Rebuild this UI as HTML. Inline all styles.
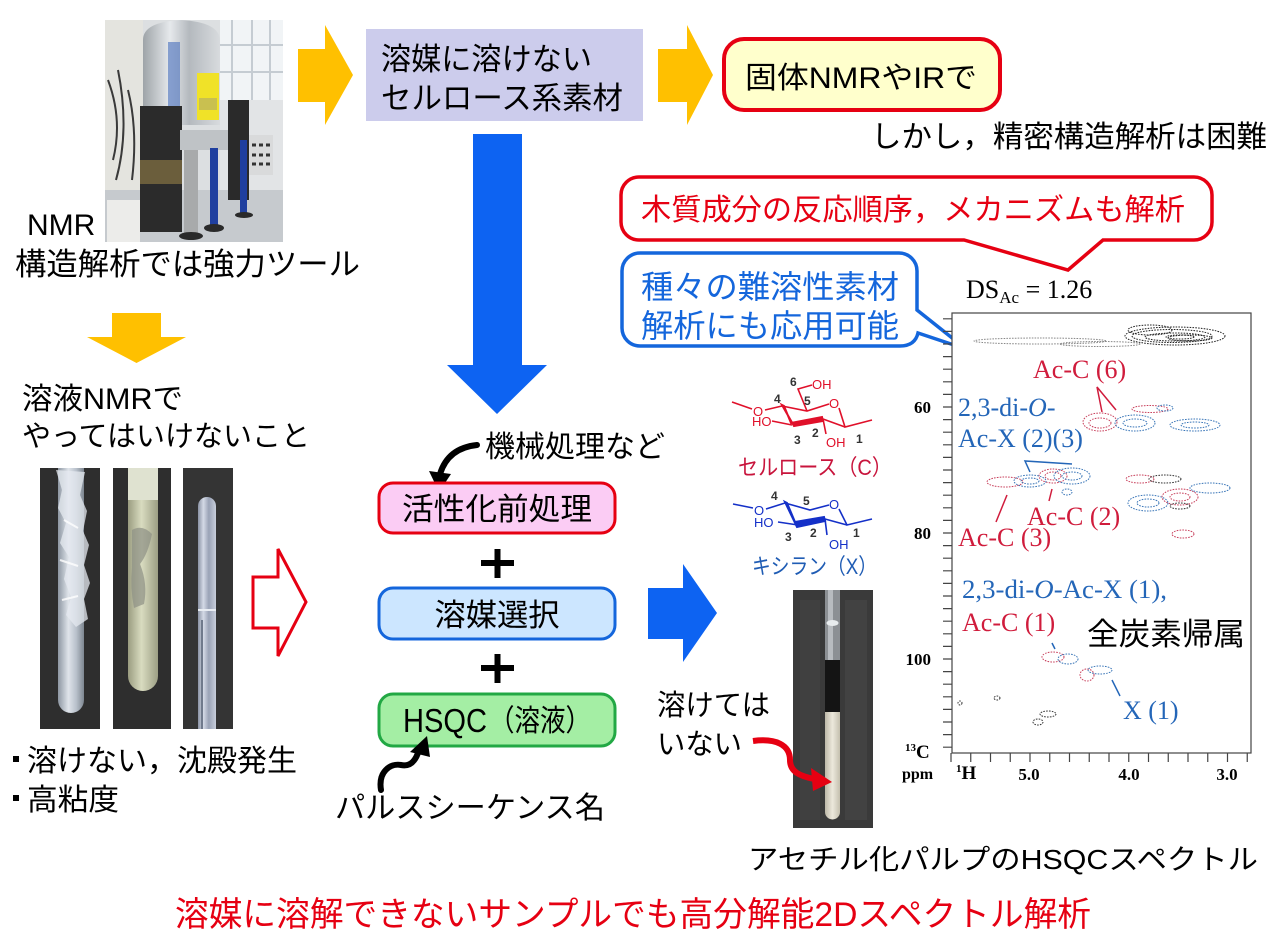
<!DOCTYPE html>
<html><head><meta charset="utf-8">
<style>
html,body{margin:0;padding:0;background:#fff;}
svg{display:block;}
.j{font-family:"Liberation Sans","Noto Sans CJK JP",sans-serif;}
.s{font-family:"Liberation Serif","Noto Serif CJK SC",serif;}
</style></head><body>
<svg width="1280" height="941" viewBox="0 0 1280 941" xmlns="http://www.w3.org/2000/svg">
<defs>
<linearGradient id="silver" x1="0" x2="1" y1="0" y2="0">
<stop offset="0" stop-color="#9ea4a8"/><stop offset="0.35" stop-color="#e6e9ec"/><stop offset="0.6" stop-color="#b4b9be"/><stop offset="1" stop-color="#d8dbde"/>
</linearGradient>
<linearGradient id="glass1" x1="0" x2="1" y1="0" y2="0">
<stop offset="0" stop-color="#8d96a2"/><stop offset="0.4" stop-color="#dfe4ea"/><stop offset="0.7" stop-color="#b9c1cb"/><stop offset="1" stop-color="#7d8690"/>
</linearGradient>
<linearGradient id="glass2" x1="0" x2="1" y1="0" y2="0">
<stop offset="0" stop-color="#9a9c80"/><stop offset="0.45" stop-color="#d9dcc0"/><stop offset="1" stop-color="#9c9e84"/>
</linearGradient>
<linearGradient id="glass3" x1="0" x2="1" y1="0" y2="0">
<stop offset="0" stop-color="#8a92a4"/><stop offset="0.3" stop-color="#d4dae6"/><stop offset="0.6" stop-color="#9aa3b6"/><stop offset="1" stop-color="#c8cedb"/>
</linearGradient>
<linearGradient id="milk" x1="0" x2="1" y1="0" y2="0">
<stop offset="0" stop-color="#bdb8a8"/><stop offset="0.5" stop-color="#ece8dc"/><stop offset="1" stop-color="#c4bfae"/>
</linearGradient>
</defs>

<!-- ===== NMR photo ===== -->
<g>
<rect x="105" y="20" width="178" height="222" fill="#dcdfe1"/>
<rect x="105" y="20" width="38" height="222" fill="#e4e4df"/>
<rect x="220" y="20" width="63" height="82" fill="#f1f4f6"/>
<path d="M232 20v80M252 20v80M270 20v80M220 45h63M220 72h63" stroke="#c5ccd2" stroke-width="2"/>
<rect x="220" y="100" width="63" height="90" fill="#e2e4e6"/>
<rect x="105" y="190" width="178" height="52" fill="#c6cace"/>
<rect x="107" y="200" width="33" height="42" fill="#ececea"/>
<path d="M108 80q15 40 5 80M118 70q12 60 -2 110M128 90q10 40 4 90" stroke="#3a3a3a" stroke-width="2" fill="none"/>
<path d="M143 40q0 -18 38 -20q38 2 39 20v85h-77z" fill="url(#silver)"/>
<path d="M168 42h12v70h-12z" fill="#5d7fc2" opacity="0.7"/>
<rect x="197" y="73" width="22" height="47" fill="#f0e228"/>
<rect x="199" y="98" width="18" height="12" fill="#c9c050"/>
<rect x="140" y="106" width="42" height="126" fill="#2b2b2b"/>
<rect x="140" y="160" width="42" height="24" fill="#6b5e3c"/>
<rect x="180" y="130" width="50" height="20" fill="#bfc3c6"/>
<rect x="228" y="100" width="21" height="100" fill="#2a2a2a"/>
<rect x="249" y="135" width="24" height="40" fill="#d9dadb"/>
<path d="M252 145h4M259 145h4M266 145h4M252 155h4M259 155h4M266 155h4M252 164h4M259 164h4M266 164h4" stroke="#333" stroke-width="3"/>
<rect x="184" y="150" width="14" height="86" fill="#a8aaab"/>
<rect x="210" y="148" width="8" height="80" fill="#1f3f9f"/>
<rect x="240" y="140" width="7" height="75" fill="#1f3f9f"/>
<ellipse cx="191" cy="236" rx="12" ry="4" fill="#2a2a2a"/>
<ellipse cx="214" cy="228" rx="10" ry="4" fill="#2a2a2a"/>
<ellipse cx="244" cy="215" rx="9" ry="3" fill="#2a2a2a"/>
</g>

<!-- ===== Top-left text ===== -->
<text class="j" x="27" y="235" font-size="30" fill="#000">NMR</text>
<text class="j" x="15" y="275" font-size="31" fill="#000" textLength="345" lengthAdjust="spacingAndGlyphs">構造解析では強力ツール</text>

<!-- yellow arrows -->
<polygon points="298,49 325,49 325,25 353,75 325,125 325,102 298,102" fill="#FFC000"/>
<polygon points="658,49 687,49 687,25 713,75 687,125 687,102 658,102" fill="#FFC000"/>
<polygon points="112,313 161,313 161,337 186,337 136.5,363 87,337 112,337" fill="#FFC000"/>

<!-- lavender box -->
<rect x="366" y="29" width="277" height="92" fill="#CCCCEC"/>
<text class="j" x="381" y="70" font-size="31" fill="#000" textLength="211" lengthAdjust="spacingAndGlyphs">溶媒に溶けない</text>
<text class="j" x="381" y="109" font-size="31" fill="#000" textLength="242" lengthAdjust="spacingAndGlyphs">セルロース系素材</text>

<!-- 固体NMR box -->
<rect x="724" y="39" width="276" height="71" rx="20" ry="20" fill="#FFFFCC" stroke="#E60012" stroke-width="4"/>
<text class="j" x="745" y="88" font-size="30" fill="#000" textLength="232" lengthAdjust="spacingAndGlyphs">固体NMRやIRで</text>
<text class="j" x="871" y="147" font-size="30" fill="#000" textLength="396" lengthAdjust="spacingAndGlyphs">しかし，精密構造解析は困難</text>

<!-- red callout -->
<path d="M639 177H1194A18 18 0 0 1 1212 195V222A18 18 0 0 1 1194 240H1103L1068 270L964 240H639A18 18 0 0 1 621 222V195A18 18 0 0 1 639 177Z" fill="#fff" stroke="#E60012" stroke-width="3.5"/>
<text class="j" x="641" y="220" font-size="30" fill="#E60012" textLength="544" lengthAdjust="spacingAndGlyphs">木質成分の反応順序，メカニズムも解析</text>

<!-- blue callout -->
<path d="M640 253H899A18 18 0 0 1 917 271V310L966 349L918 333Q915 346 900 346H640A18 18 0 0 1 622 328V271A18 18 0 0 1 640 253Z" fill="#fff" stroke="#1466DC" stroke-width="3.5"/>
<text class="j" x="641" y="298" font-size="32" fill="#1466DC" textLength="258" lengthAdjust="spacingAndGlyphs">種々の難溶性素材</text>
<text class="j" x="641" y="337" font-size="32" fill="#1466DC" textLength="258" lengthAdjust="spacingAndGlyphs">解析にも応用可能</text>

<!-- DS_Ac -->
<text class="s" x="966" y="298" font-size="26" fill="#000">DS<tspan font-size="17" dy="5">Ac</tspan><tspan dy="-5"> = 1.26</tspan></text>

<!-- big blue down arrow -->
<polygon points="473,134 522,134 522,365 547,365 497,414 447,365 473,365" fill="#0D63F2"/>

<!-- 溶液NMR text -->
<text class="j" x="22" y="409" font-size="30" fill="#000" textLength="161" lengthAdjust="spacingAndGlyphs">溶液NMRで</text>
<text class="j" x="22" y="446" font-size="29" fill="#000" textLength="288" lengthAdjust="spacingAndGlyphs">やってはいけないこと</text>

<!-- tube photos -->
<g>
<rect x="40" y="468" width="60" height="261" fill="#2e2e2e"/>
<path d="M58 468V700a13 13 0 0 0 26 0V468z" fill="url(#glass1)"/>
<path d="M56 470l6 20-4 18 8 15-6 20 9 14-5 22 7 18-5 18 10 12 12-8-4-20 6-16-6-18 5-20-6-14 4-20-7-16 5-23z" fill="#e6eaf0" opacity="0.75"/>
<path d="M60 560l18 6M62 600l16-4M64 520l14 8" stroke="#ffffff" stroke-width="2" opacity="0.8"/>
<rect x="113" y="468" width="58" height="261" fill="#2e2e2e"/>
<path d="M128 468V676a15 15 0 0 0 30 0V468z" fill="url(#glass2)"/>
<rect x="128" y="468" width="30" height="32" fill="#dfe2d0"/>
<path d="M132 530q10 -6 20 4q-4 20 -12 30q8 20 4 40l-10 4q-4 -20 -2 -40z" fill="#8d9085" opacity="0.7"/>
<rect x="183" y="468" width="50" height="261" fill="#343434"/>
<path d="M198 729V506a9 9 0 0 1 18 0V729z" fill="url(#glass3)"/>
<path d="M198 610h18" stroke="#e8ecf2" stroke-width="2"/>
<path d="M202 620V729" stroke="#707a8c" stroke-width="2"/>
</g>

<!-- bullets -->
<rect x="13" y="756" width="6" height="6" fill="#000"/>
<text class="j" x="27" y="771" font-size="30" fill="#000" textLength="270" lengthAdjust="spacingAndGlyphs">溶けない，沈殿発生</text>
<rect x="13" y="795" width="6" height="6" fill="#000"/>
<text class="j" x="27" y="810" font-size="30" fill="#000" textLength="92" lengthAdjust="spacingAndGlyphs">高粘度</text>

<!-- red outlined arrow -->
<polygon points="253,577 278,577 278,549 306,602 278,656 278,628 253,628" fill="#fff" stroke="#E60012" stroke-width="3"/>

<!-- 機械処理など -->
<text class="j" x="485" y="457" font-size="30" fill="#000" textLength="180" lengthAdjust="spacingAndGlyphs">機械処理など</text>
<path d="M477 445Q448 448 440 474" stroke="#000" stroke-width="6" fill="none" stroke-linecap="round"/>
<polygon points="429,471 451,474 439,492" fill="#000"/>

<!-- center boxes -->
<rect x="379" y="483" width="236" height="50" rx="14" ry="14" fill="#FBCCF4" stroke="#E60012" stroke-width="3"/>
<text class="j" x="497" y="520" font-size="31" fill="#000" text-anchor="middle" textLength="190" lengthAdjust="spacingAndGlyphs">活性化前処理</text>
<path d="M481 563h33M497.5 549v29" stroke="#000" stroke-width="6"/>
<rect x="379" y="588" width="236" height="51" rx="14" ry="14" fill="#CCE6FF" stroke="#1466DC" stroke-width="3"/>
<text class="j" x="497" y="626" font-size="31" fill="#000" text-anchor="middle" textLength="125" lengthAdjust="spacingAndGlyphs">溶媒選択</text>
<path d="M481 668h33M497.5 654v29" stroke="#000" stroke-width="6"/>
<rect x="379" y="694" width="236" height="52" rx="14" ry="14" fill="#A4EEA4" stroke="#22A844" stroke-width="3"/>
<text class="j" x="403" y="732" font-size="33" fill="#000" textLength="84" lengthAdjust="spacingAndGlyphs">HSQC</text>
<text class="j" x="489" y="731" font-size="30" fill="#000" textLength="102" lengthAdjust="spacingAndGlyphs">（溶液）</text>

<!-- pulse arrow -->
<path d="M381 790C378 772 390 763 401 765C411 767 416 760 419 750" stroke="#000" stroke-width="6" fill="none" stroke-linecap="round"/>
<polygon points="410,752 430,757 427,736" fill="#000"/>
<text class="j" x="335" y="818" font-size="30" fill="#000" textLength="270" lengthAdjust="spacingAndGlyphs">パルスシーケンス名</text>

<!-- blue right arrow -->
<polygon points="648,588 683,588 683,564 717,613 683,662 683,639 648,639" fill="#0D63F2"/>

<!-- 溶けてはいない -->
<text class="j" x="657" y="715" font-size="29" fill="#000" textLength="113" lengthAdjust="spacingAndGlyphs">溶けては</text>
<text class="j" x="657" y="754" font-size="29" fill="#000" textLength="85" lengthAdjust="spacingAndGlyphs">いない</text>

<!-- tube photo center -->
<rect x="793" y="590" width="80" height="238" fill="#3a3a3a"/>
<rect x="800" y="600" width="20" height="220" fill="#444" opacity="0.6"/>
<rect x="845" y="600" width="22" height="220" fill="#474747" opacity="0.6"/>
<rect x="825" y="590" width="15" height="72" fill="#8c9094"/>
<rect x="828" y="590" width="5" height="72" fill="#b8bcc0"/>
<ellipse cx="832.5" cy="623" rx="6" ry="3" fill="#e8ecee"/>
<rect x="825" y="660" width="15" height="53" fill="#141414"/>
<path d="M825 712h15v100a7.5 7.5 0 0 1 -15 0z" fill="url(#milk)"/>

<!-- red arrow -->
<path d="M753 741C776 738 790 745 790 760C790 772 800 776 814 779" stroke="#E60012" stroke-width="6" fill="none"/>
<polygon points="811,768 813,791 832,782" fill="#E60012"/>

<!-- cellulose -->
<g stroke="#E0102A" stroke-width="1.6" fill="none">
<path d="M732 402L752 409"/>
<path d="M765 410L782 406"/>
<path d="M782 406L807 411L829 404"/>
<path d="M839 408L845 427L872 420"/>
<path d="M807 411L798 389L812 385"/>
<path d="M823 419L845 427"/>
<path d="M823 419L826 434"/>
<path d="M792 425L772 421"/>
</g>
<path d="M782 405L794 426L823 421L822 417L791 423L784 406Z" fill="#E0102A" stroke="#E0102A" stroke-width="2"/>
<g class="j" font-size="13" fill="#E0102A">
<text x="753" y="416">O</text>
<text x="829" y="408">O</text>
<text x="812" y="389">OH</text>
<text x="752" y="426">HO</text>
<text x="826" y="447">OH</text>
</g>
<g class="j" font-size="12" font-weight="bold" fill="#333">
<text x="790" y="386">6</text>
<text x="804" y="405">5</text>
<text x="774" y="403">4</text>
<text x="794" y="444">3</text>
<text x="812" y="437">2</text>
<text x="856" y="443">1</text>
</g>
<text class="j" x="738" y="475" font-size="22" fill="#C8143C" textLength="154" lengthAdjust="spacingAndGlyphs">セルロース（C）</text>

<!-- xylan -->
<g stroke="#1430C8" stroke-width="1.6" fill="none">
<path d="M733 504L753 508"/>
<path d="M766 509L785 503"/>
<path d="M785 503L810 510L829 505"/>
<path d="M839 509L847 525L872 519"/>
<path d="M825 519L847 525"/>
<path d="M825 519L827 535"/>
<path d="M798 525L778 522"/>
</g>
<path d="M785 502L797 527L825 521L824 517L795 522L787 503Z" fill="#1430C8" stroke="#1430C8" stroke-width="2"/>
<g class="j" font-size="13" fill="#1430C8">
<text x="754" y="515">O</text>
<text x="829" y="509">O</text>
<text x="754" y="527">HO</text>
<text x="829" y="549">OH</text>
</g>
<g class="j" font-size="12" font-weight="bold" fill="#333">
<text x="771" y="500">4</text>
<text x="803" y="505">5</text>
<text x="785" y="541">3</text>
<text x="810" y="537">2</text>
<text x="853" y="537">1</text>
</g>
<text class="j" x="752" y="574" font-size="22" fill="#1F5CB4" textLength="125" lengthAdjust="spacingAndGlyphs">キシラン（X）</text>

<!-- ===== spectrum ===== -->
<rect x="952" y="313" width="299" height="440" fill="#fff" stroke="#444" stroke-width="1.2"/>
<path stroke="#444" stroke-width="1.2" d="M943 318.8h9M943 331.4h9M943 344h9M943 356.6h9M943 369.2h9M943 381.8h9M943 394.4h9M943 407h9M943 419.6h9M943 432.2h9M943 444.8h9M943 457.4h9M943 470h9M943 482.6h9M943 495.2h9M943 507.8h9M943 520.4h9M943 533h9M943 545.6h9M943 558.2h9M943 570.8h9M943 583.4h9M943 596h9M943 608.6h9M943 621.2h9M943 633.8h9M943 646.4h9M943 659h9M943 671.6h9M943 684.2h9M943 696.8h9M943 709.4h9M943 722h9M943 734.6h9M943 747.2h9"/>
<path stroke="#444" stroke-width="1.2" d="M951 753v9M970.75 753v9M990.5 753v9M1010.25 753v9M1030 753v9M1049.75 753v9M1069.5 753v9M1089.25 753v9M1109 753v9M1128.75 753v9M1148.5 753v9M1168.25 753v9M1188 753v9M1207.75 753v9M1227.5 753v9M1247.25 753v9"/>
<g class="s" font-size="17" font-weight="bold" fill="#000" text-anchor="end">
<text x="931" y="413">60</text>
<text x="931" y="539">80</text>
<text x="931" y="665">100</text>
</g>
<text class="s" x="905" y="758" font-size="19" font-weight="bold" fill="#000"><tspan font-size="11" dy="-7">13</tspan><tspan dy="7">C</tspan></text>
<text class="s" x="902" y="779" font-size="16" font-weight="bold" fill="#000">ppm</text>
<text class="s" x="956" y="779" font-size="19" font-weight="bold" fill="#000"><tspan font-size="11" dy="-7">1</tspan><tspan dy="7">H</tspan></text>
<g class="s" font-size="17" font-weight="bold" fill="#000" text-anchor="middle">
<text x="1029" y="780">5.0</text>
<text x="1129" y="780">4.0</text>
<text x="1227" y="780">3.0</text>
</g>

<!-- contours -->
<g fill="none" stroke-width="1" stroke-dasharray="1.6 1.2">
<g stroke="#888">
<ellipse cx="1040" cy="341" rx="66" ry="3"/>
<ellipse cx="1100" cy="344" rx="40" ry="2.5"/>
</g>
<g stroke="#222">
<ellipse cx="1175" cy="336" rx="50" ry="9"/>
<ellipse cx="1172" cy="336" rx="40" ry="6.5"/>
<ellipse cx="1175" cy="337" rx="30" ry="4"/>
<ellipse cx="1150" cy="330" rx="22" ry="5"/>
<ellipse cx="1190" cy="338" rx="22" ry="3"/>
<ellipse cx="1180" cy="337" rx="14" ry="2"/>
</g>
<g stroke="#C8405C">
<ellipse cx="1100" cy="422" rx="17" ry="9"/>
<ellipse cx="1100" cy="423" rx="11" ry="5"/>
<ellipse cx="1150" cy="409" rx="18" ry="3.5"/>
<ellipse cx="1005" cy="482" rx="18" ry="5"/>
<ellipse cx="1053" cy="476" rx="14" ry="7"/>
<ellipse cx="1053" cy="476" rx="8" ry="4"/>
<ellipse cx="1140" cy="479" rx="14" ry="4"/>
<ellipse cx="1180" cy="497" rx="18" ry="8"/>
<ellipse cx="1180" cy="497" rx="10" ry="4"/>
<ellipse cx="1183" cy="534" rx="11" ry="4"/>
<ellipse cx="1053" cy="657" rx="11" ry="5"/>
<ellipse cx="1087" cy="675" rx="7" ry="6"/>
</g>
<g stroke="#3A76B8">
<ellipse cx="1135" cy="423" rx="20" ry="8"/>
<ellipse cx="1135" cy="423" rx="12" ry="4"/>
<ellipse cx="1165" cy="408" rx="8" ry="3"/>
<ellipse cx="1195" cy="425" rx="25" ry="6"/>
<ellipse cx="1195" cy="425" rx="14" ry="3"/>
<ellipse cx="1030" cy="481" rx="16" ry="6"/>
<ellipse cx="1030" cy="481" rx="9" ry="3"/>
<ellipse cx="1072" cy="476" rx="18" ry="8"/>
<ellipse cx="1072" cy="476" rx="10" ry="4"/>
<ellipse cx="1067" cy="492" rx="5" ry="3"/>
<ellipse cx="1148" cy="503" rx="20" ry="8"/>
<ellipse cx="1148" cy="503" rx="11" ry="4"/>
<ellipse cx="1210" cy="488" rx="20" ry="5"/>
<ellipse cx="1068" cy="659" rx="10" ry="5"/>
<ellipse cx="1100" cy="670" rx="12" ry="4"/>
</g>
<g stroke="#333">
<ellipse cx="1165" cy="479" rx="16" ry="4"/>
<ellipse cx="1180" cy="506" rx="10" ry="3"/>
<ellipse cx="997" cy="698" rx="3" ry="2"/>
<ellipse cx="960" cy="703" rx="2" ry="2"/>
<ellipse cx="1048" cy="714" rx="8" ry="3"/>
<ellipse cx="1038" cy="722" rx="5" ry="3"/>
</g>
</g>

<!-- leader lines -->
<g stroke-width="1.5" fill="none">
<path d="M1102 412L1097 387L1116 410" stroke="#D01C3C"/>
<path d="M1030 472L1025 461L1072 464" stroke="#2466B8"/>
<path d="M1007 495L996 522" stroke="#D01C3C"/>
<path d="M1052 489L1049 501" stroke="#D01C3C"/>
<path d="M1052 643L1055 649" stroke="#2466B8"/>
<path d="M1112 680L1120 696" stroke="#2466B8"/>
</g>

<!-- labels -->
<g class="s" font-size="26">
<text x="1033" y="378" fill="#D01C3C">Ac-C (6)</text>
<text x="958" y="416" fill="#2466B8">2,3-di-<tspan font-style="italic">O</tspan>-</text>
<text x="958" y="447" fill="#2466B8">Ac-X (2)(3)</text>
<text x="1027" y="525" fill="#D01C3C">Ac-C (2)</text>
<text x="958" y="546" fill="#D01C3C">Ac-C (3)</text>
<text x="962" y="598" fill="#2466B8" textLength="205" lengthAdjust="spacingAndGlyphs">2,3-di-<tspan font-style="italic">O</tspan>-Ac-X (1),</text>
<text x="962" y="631" fill="#D01C3C">Ac-C (1)</text>
<text x="1123" y="719" fill="#2466B8">X (1)</text>
</g>
<text class="j" x="1087" y="645" font-size="31" fill="#000" textLength="158" lengthAdjust="spacingAndGlyphs">全炭素帰属</text>

<text class="j" x="748" y="869" font-size="28" fill="#000" textLength="510" lengthAdjust="spacingAndGlyphs">アセチル化パルプのHSQCスペクトル</text>

<text class="j" x="175" y="926" font-size="34" fill="#E60012" textLength="916" lengthAdjust="spacingAndGlyphs">溶媒に溶解できないサンプルでも高分解能2Dスペクトル解析</text>
</svg>
</body></html>
